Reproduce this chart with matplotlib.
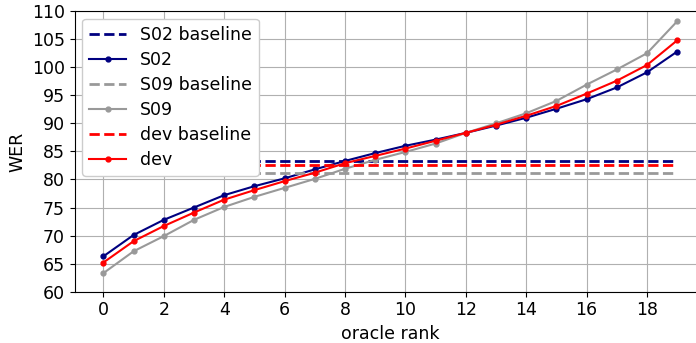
import matplotlib
matplotlib.use("Agg")
import matplotlib.pyplot as plt
from matplotlib.ticker import MultipleLocator

rank = list(range(20))
s02 = [66.3, 70.1, 72.8, 75.0, 77.2, 78.8, 80.2, 81.8, 83.3, 84.7,
       86.0, 87.1, 88.3, 89.6, 91.0, 92.6, 94.3, 96.4, 99.1, 102.8]
s09 = [63.3, 67.2, 69.9, 72.8, 75.1, 76.9, 78.5, 80.1, 81.9, 83.5,
       84.9, 86.4, 88.3, 90.0, 91.8, 94.0, 96.9, 99.6, 102.5, 108.2]
dev = [65.2, 69.0, 71.7, 74.1, 76.4, 78.1, 79.7, 81.2, 82.9, 84.2,
       85.5, 86.9, 88.3, 89.75, 91.35, 93.1, 95.3, 97.6, 100.4, 104.8]
s02_base = 83.35
s09_base = 81.1
dev_base = 82.5

plt.rcParams['font.size'] = 12.5
fig = plt.figure(figsize=(6.96, 3.43), dpi=100)
ax = fig.add_axes([0.1073, 0.1496, 0.907, 0.818])

ax.plot([rank[0], rank[-1]], [s02_base, s02_base], '--', color='navy', lw=2, label='S02 baseline')
ax.plot(rank, s02, '-o', color='navy', lw=1.5, ms=3.5, label='S02')
ax.plot([rank[0], rank[-1]], [s09_base, s09_base], '--', color='#999999', lw=2, label='S09 baseline')
ax.plot(rank, s09, '-o', color='#999999', lw=1.5, ms=3.5, label='S09')
ax.plot([rank[0], rank[-1]], [dev_base, dev_base], '--', color='red', lw=2, label='dev baseline')
ax.plot(rank, dev, '-o', color='red', lw=1.5, ms=3.5, label='dev')

ax.set_ylim(60, 110)
ax.set_xlim(-0.95, 19.95)
ax.xaxis.set_major_locator(MultipleLocator(2))
ax.yaxis.set_major_locator(MultipleLocator(5))
ax.grid(True)
ax.set_axisbelow(True)
ax.set_xlabel('oracle rank')
ax.set_ylabel('WER')
ax.legend(loc='upper left', framealpha=1, labelspacing=0.4, handlelength=2.1,
          bbox_to_anchor=(0.0, 1.0), borderaxespad=0.45)

fig.savefig('out.png', dpi=100)
